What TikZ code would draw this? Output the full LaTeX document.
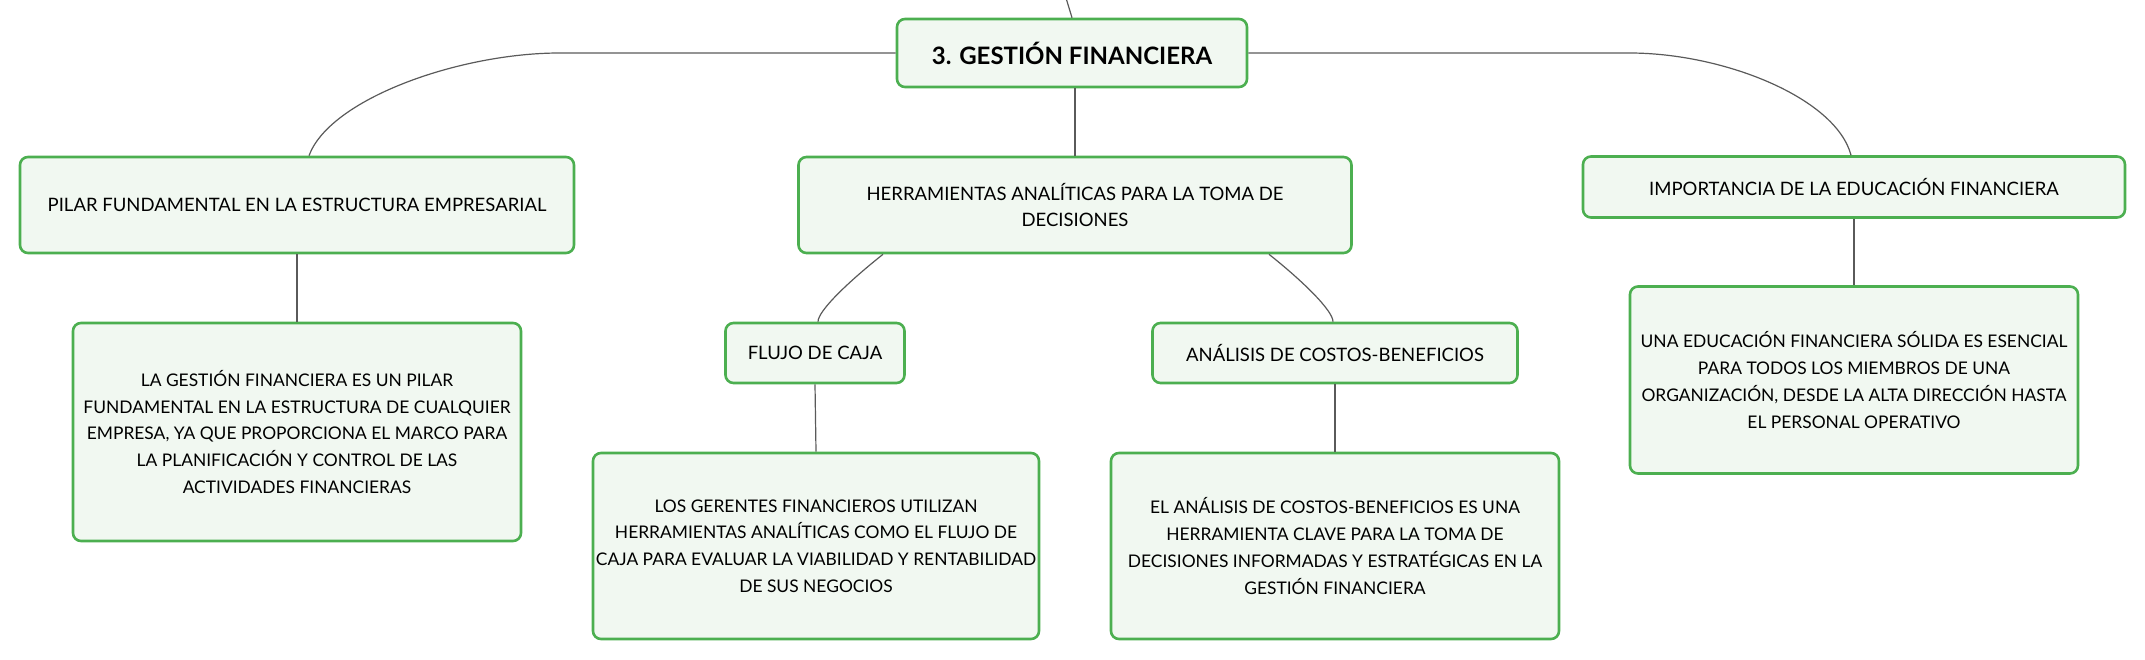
\documentclass[tikz,border=0pt]{standalone}
\usepackage{fontspec}
\setmainfont{Lato}
\usepackage{tikz}
\usetikzlibrary{positioning}
\definecolor{boxgreen}{HTML}{4CAF50}
\definecolor{boxfill}{HTML}{F1F8F1}
\definecolor{linkgray}{HTML}{5A5A5A}

\begin{document}
\begin{tikzpicture}[x=1pt,y=-1pt,
    box/.style={rectangle,rounded corners=8pt,draw=boxgreen,line width=2.6pt,fill=boxfill,align=center,inner sep=0pt,font=\fontsize{18.5}{26.7}\selectfont},
    detail node/.style={box,font=\fontsize{17.4}{26.7}\selectfont},
    root node/.style={box,minimum width=350pt,minimum height=68pt,font=\fontsize{24}{28}\selectfont\bfseries},
    link/.style={-,draw=linkgray,line width=1.2pt}]
  \useasboundingbox (0,0) rectangle (2145,660);
  % main topic
  \node[root node] (top) at (1072,53) {3. GESTIÓN FINANCIERA};
  \coordinate (up) at (1066,-2);
  % second level
  \node[box,minimum width=554pt,minimum height=96pt] (pilar) at (297,205) {PILAR FUNDAMENTAL EN LA ESTRUCTURA EMPRESARIAL};
  \node[box,minimum width=553pt,minimum height=96pt] (herr) at (1075,205) {HERRAMIENTAS ANALÍTICAS PARA LA TOMA DE\\DECISIONES};
  \node[box,minimum width=542pt,minimum height=61pt] (imp) at (1854,187) {IMPORTANCIA DE LA EDUCACIÓN FINANCIERA};
  % third level
  \node[box,minimum width=179pt,minimum height=60pt] (flujo) at (815,353) {FLUJO DE CAJA};
  \node[box,minimum width=365pt,minimum height=60pt] (costos) at (1335,353) {ANÁLISIS DE COSTOS-BENEFICIOS};
  % details
  \node[detail node,minimum width=448pt,minimum height=218pt] (gest) at (297,432) {LA GESTIÓN FINANCIERA ES UN PILAR\\FUNDAMENTAL EN LA ESTRUCTURA DE CUALQUIER\\EMPRESA, YA QUE PROPORCIONA EL MARCO PARA\\LA PLANIFICACIÓN Y CONTROL DE LAS\\ACTIVIDADES FINANCIERAS};
  \node[detail node,minimum width=446pt,minimum height=186pt] (gerentes) at (816,546) {LOS GERENTES FINANCIEROS UTILIZAN\\HERRAMIENTAS ANALÍTICAS COMO EL FLUJO DE\\CAJA PARA EVALUAR LA VIABILIDAD Y RENTABILIDAD\\DE SUS NEGOCIOS};
  \node[detail node,minimum width=448pt,minimum height=186pt] (analisis) at (1335,546) {EL ANÁLISIS DE COSTOS-BENEFICIOS ES UNA\\HERRAMIENTA CLAVE PARA LA TOMA DE\\DECISIONES INFORMADAS Y ESTRATÉGICAS EN LA\\GESTIÓN FINANCIERA};
  \node[detail node,minimum width=448pt,minimum height=187pt] (edu) at (1854,380) {UNA EDUCACIÓN FINANCIERA SÓLIDA ES ESENCIAL\\PARA TODOS LOS MIEMBROS DE UNA\\ORGANIZACIÓN, DESDE LA ALTA DIRECCIÓN HASTA\\EL PERSONAL OPERATIVO};
  % connectors
  \path[link] (up) edge (top.north);
  \draw[link] (top.west) -- ++(-336,0) .. controls +(-100,0) and +(21,-57) .. ([xshift=12pt]pilar.north);
  \draw[link] (top.east) -- ++(381,0) .. controls +(95,0) and +(-15,-57) .. ([xshift=-3pt]imp.north);
  \path[link] (top.south -| herr.north) edge (herr.north);
  \draw[link] ([xshift=-192pt]herr.south) .. controls +(-34,27) and +(0,-11) .. ([xshift=3pt]flujo.north);
  \draw[link] ([xshift=194pt]herr.south) .. controls +(34,27) and +(0,-11) .. ([xshift=-2pt]costos.north);
  \path[link] (pilar.south) edge (gest.north);
  \path[link] (flujo.south) edge (gerentes.north);
  \path[link] (costos.south) edge (analisis.north);
  \path[link] (imp.south) edge (edu.north);
\end{tikzpicture}
\end{document}
